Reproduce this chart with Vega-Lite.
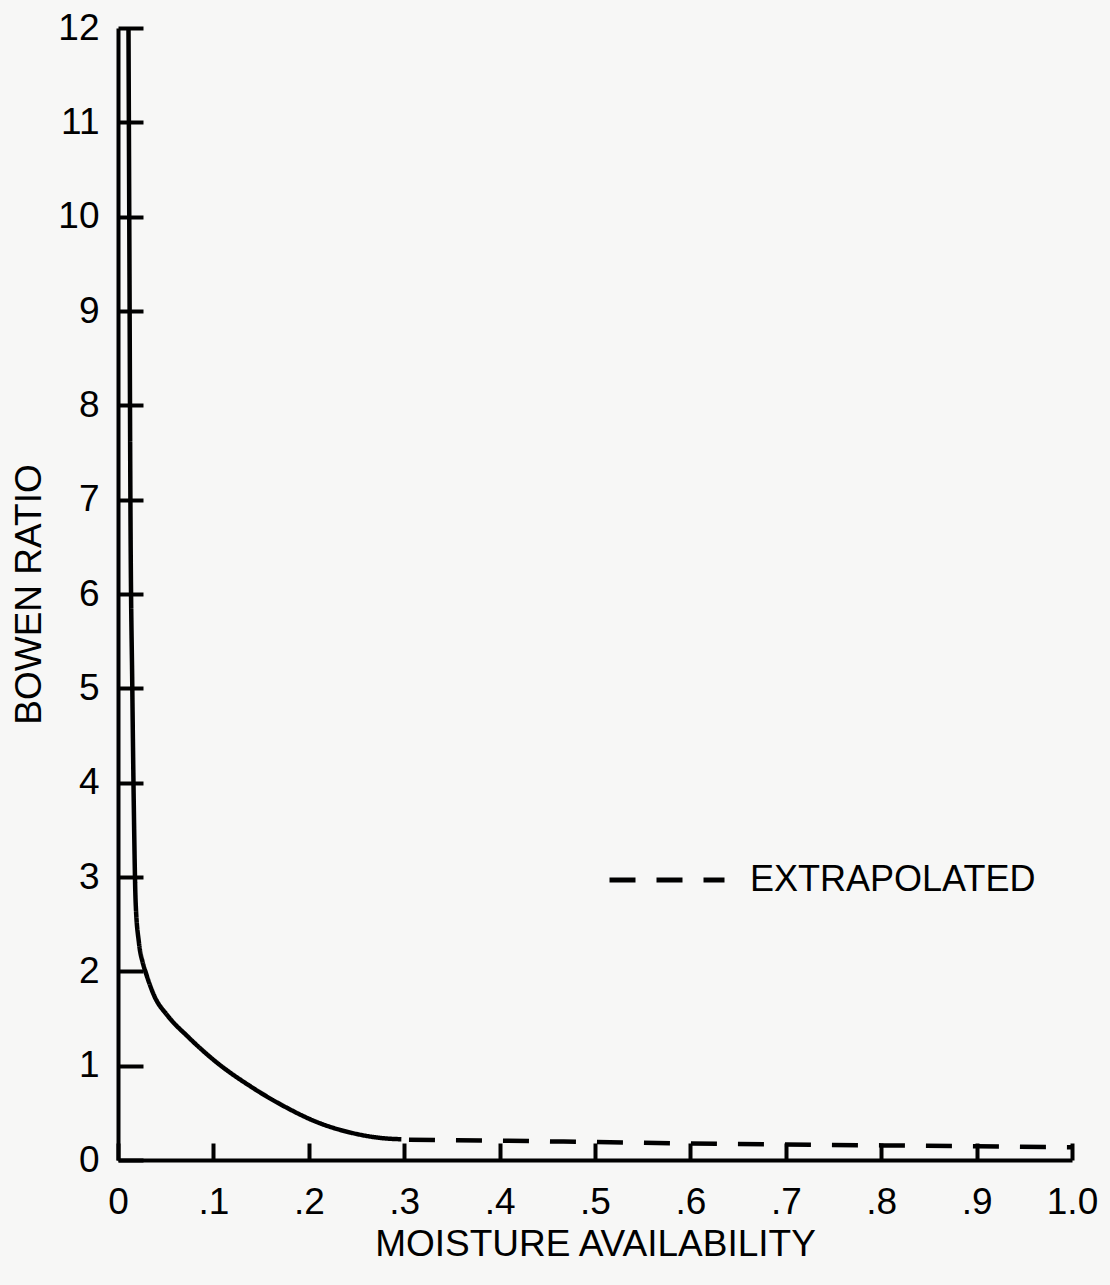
{
  "$schema": "https://vega.github.io/schema/vega-lite/v6.json",
  "autosize": {"type": "none"},
  "width": 954,
  "height": 1132,
  "padding": {"left": 118, "top": 28, "right": 38, "bottom": 125},
  "background": "#f7f7f6",
  "config": {
    "view": {"stroke": null},
    "font": "Liberation Sans",
    "axis": {
      "grid": false,
      "domainColor": "#000",
      "domainWidth": 4,
      "tickColor": "#000",
      "tickWidth": 4,
      "labelColor": "#000",
      "labelFont": "Liberation Sans",
      "labelFontSize": 37,
      "titleColor": "#000",
      "titleFont": "Liberation Sans",
      "titleFontSize": 37,
      "titleFontWeight": "normal"
    }
  },
  "data": {
    "values": [
      {"m": 0.011, "b": 12, "s": "MEASURED"},
      {"m": 0.012, "b": 9.5, "s": "MEASURED"},
      {"m": 0.013, "b": 7, "s": "MEASURED"},
      {"m": 0.015, "b": 5, "s": "MEASURED"},
      {"m": 0.0165, "b": 3.8, "s": "MEASURED"},
      {"m": 0.0185, "b": 2.73, "s": "MEASURED"},
      {"m": 0.022, "b": 2.3, "s": "MEASURED"},
      {"m": 0.026, "b": 2.09, "s": "MEASURED"},
      {"m": 0.029, "b": 1.99, "s": "MEASURED"},
      {"m": 0.038, "b": 1.74, "s": "MEASURED"},
      {"m": 0.052, "b": 1.53, "s": "MEASURED"},
      {"m": 0.073, "b": 1.31, "s": "MEASURED"},
      {"m": 0.104, "b": 1.03, "s": "MEASURED"},
      {"m": 0.139, "b": 0.78, "s": "MEASURED"},
      {"m": 0.174, "b": 0.57, "s": "MEASURED"},
      {"m": 0.209, "b": 0.40, "s": "MEASURED"},
      {"m": 0.244, "b": 0.29, "s": "MEASURED"},
      {"m": 0.279, "b": 0.23, "s": "MEASURED"},
      {"m": 0.297, "b": 0.22, "s": "MEASURED"},
      {"m": 0.305, "b": 0.215, "s": "EXTRAPOLATED"},
      {"m": 0.4, "b": 0.205, "s": "EXTRAPOLATED"},
      {"m": 0.5, "b": 0.19, "s": "EXTRAPOLATED"},
      {"m": 0.6, "b": 0.175, "s": "EXTRAPOLATED"},
      {"m": 0.7, "b": 0.165, "s": "EXTRAPOLATED"},
      {"m": 0.8, "b": 0.155, "s": "EXTRAPOLATED"},
      {"m": 0.9, "b": 0.145, "s": "EXTRAPOLATED"},
      {"m": 1.0, "b": 0.135, "s": "EXTRAPOLATED"}
    ]
  },
  "mark": {"type": "line", "color": "#000", "strokeWidth": 4.5, "interpolate": "monotone"},
  "encoding": {
    "x": {
      "field": "m", "type": "quantitative",
      "scale": {"domain": [0, 1], "nice": false, "zero": true},
      "axis": {
        "title": "MOISTURE AVAILABILITY",
        "values": [0, 0.1, 0.2, 0.3, 0.4, 0.5, 0.6, 0.7, 0.8, 0.9, 1.0],
        "labelExpr": "datum.value == 0 ? '0' : (datum.value == 1 ? '1.0' : replace(format(datum.value, '.1f'), '0.', '.'))",
        "tickSize": -17,
        "labelPadding": 41,
        "titlePadding": 6,
        "labelFlush": false
      }
    },
    "y": {
      "field": "b", "type": "quantitative",
      "scale": {"domain": [0, 12], "nice": false},
      "axis": {
        "title": "BOWEN RATIO",
        "values": [0, 1, 2, 3, 4, 5, 6, 7, 8, 9, 10, 11, 12],
        "tickSize": -25,
        "labelPadding": 44,
        "titlePadding": 9,
        "labelFlush": false
      }
    },
    "strokeDash": {
      "field": "s", "type": "nominal",
      "scale": {"domain": ["MEASURED", "EXTRAPOLATED"], "range": [[1, 0], [26, 21]]},
      "legend": {
        "values": ["EXTRAPOLATED"],
        "title": null,
        "orient": "none",
        "legendX": 489,
        "legendY": 792,
        "padding": 0,
        "symbolType": "stroke",
        "symbolSize": 13225,
        "symbolStrokeWidth": 5,
        "symbolStrokeColor": "#000",
        "labelFontSize": 36,
        "labelFont": "Liberation Sans",
        "labelColor": "#000",
        "labelOffset": 23,
        "labelLimit": 0
      }
    }
  }
}
